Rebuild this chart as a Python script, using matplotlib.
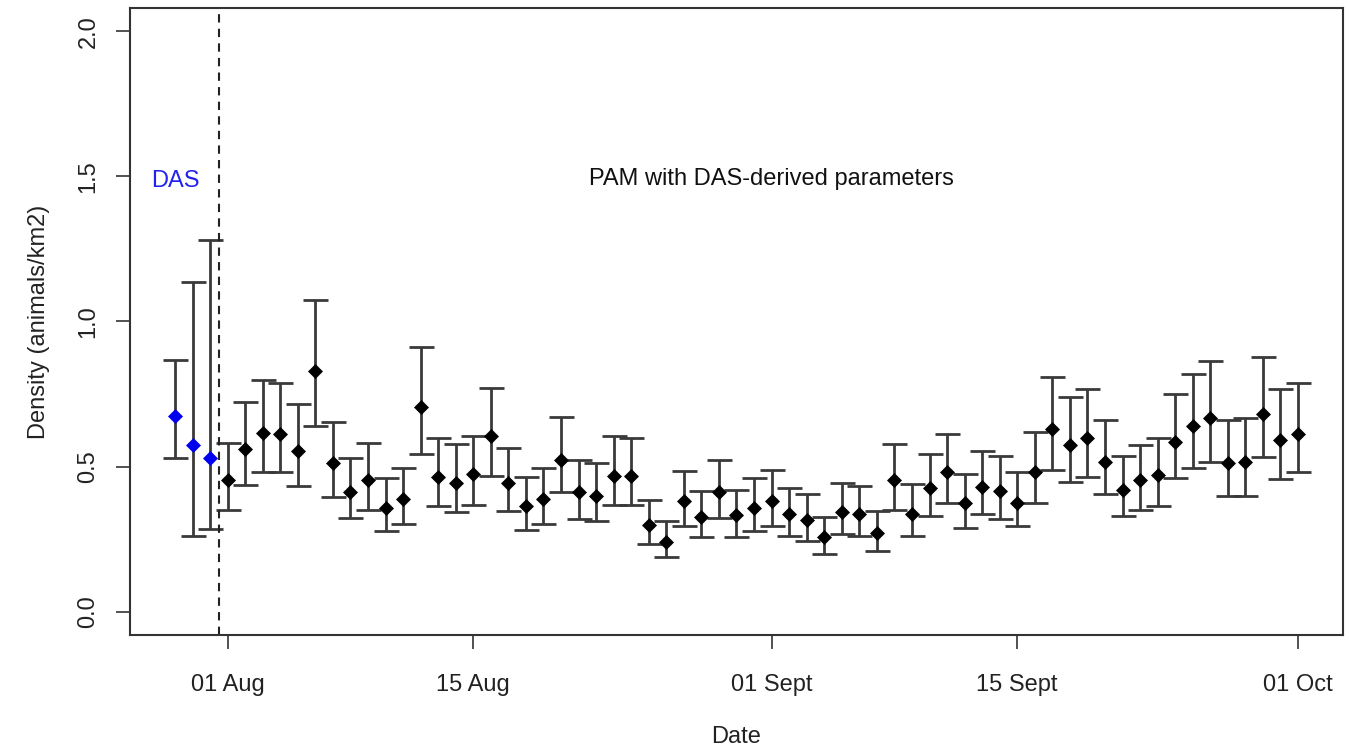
import matplotlib
matplotlib.use("Agg")
import matplotlib.pyplot as plt
import matplotlib.dates as mdates
import numpy as np
import pandas as pd

plt.rcParams['font.family'] = ['Liberation Sans', 'DejaVu Sans']

# DAS estimates (blue)
das_dates = pd.to_datetime(["2017-07-29", "2017-07-30", "2017-07-31"])
das_est = [0.676, 0.576, 0.531]
das_upper = [0.867, 1.135, 1.282]
das_lower = [0.528, 0.262, 0.285]

# PAM estimates (black), daily from 01 Aug to 01 Oct
pam_dates = pd.date_range("2017-08-01", "2017-10-01", freq="D")
pam_est = [0.453, 0.560, 0.617, 0.613, 0.555, 0.831, 0.513, 0.412, 0.454, 0.358,
           0.389, 0.705, 0.464, 0.444, 0.475, 0.604, 0.443, 0.364, 0.389, 0.522,
           0.412, 0.400, 0.469, 0.469, 0.299, 0.240, 0.381, 0.325, 0.412, 0.332,
           0.359,
           0.380, 0.336, 0.316, 0.258, 0.343, 0.336, 0.272, 0.453, 0.336, 0.427,
           0.481, 0.373, 0.431, 0.415, 0.374, 0.481, 0.630, 0.576, 0.598, 0.517,
           0.421, 0.453, 0.470, 0.586, 0.640, 0.668, 0.513, 0.517, 0.683, 0.592,
           0.613]
pam_upper = [0.581, 0.723, 0.800, 0.787, 0.715, 1.075, 0.654, 0.529, 0.581, 0.460,
             0.496, 0.911, 0.598, 0.578, 0.607, 0.772, 0.563, 0.464, 0.495, 0.672,
             0.522, 0.512, 0.605, 0.598, 0.384, 0.311, 0.485, 0.415, 0.522, 0.421,
             0.460,
             0.490, 0.427, 0.406, 0.325, 0.444, 0.433, 0.348, 0.579, 0.440, 0.544,
             0.613, 0.475, 0.554, 0.538, 0.481, 0.619, 0.810, 0.741, 0.768, 0.660,
             0.538, 0.576, 0.598, 0.750, 0.819, 0.863, 0.659, 0.668, 0.879, 0.767,
             0.787]
pam_lower = [0.352, 0.438, 0.482, 0.482, 0.433, 0.641, 0.395, 0.322, 0.352, 0.278,
             0.304, 0.545, 0.364, 0.343, 0.368, 0.469, 0.347, 0.283, 0.303, 0.412,
             0.320, 0.311, 0.368, 0.368, 0.234, 0.188, 0.295, 0.257, 0.322, 0.257,
             0.278,
             0.294, 0.261, 0.245, 0.199, 0.267, 0.261, 0.209, 0.352, 0.261, 0.330,
             0.373, 0.288, 0.336, 0.320, 0.294, 0.373, 0.490, 0.448, 0.464, 0.406,
             0.330, 0.351, 0.364, 0.460, 0.496, 0.517, 0.399, 0.399, 0.534, 0.459,
             0.481]

tick_dates = pd.to_datetime(["2017-08-01", "2017-08-15", "2017-09-01", "2017-09-15", "2017-10-01"])
tick_labels = ["01 Aug", "15 Aug", "01 Sept", "15 Sept", "01 Oct"]
y_ticks = [0.0, 0.5, 1.0, 1.5, 2.0]
divider_date = pd.Timestamp("2017-07-31 12:00")

fig = plt.figure(figsize=(13.49, 7.52), dpi=100)
ax = fig.add_axes([0.0964, 0.1556, 0.8991, 0.8338])

def draw(dates, est, lo, up, color):
    est = np.array(est); lo = np.array(lo); up = np.array(up)
    ax.errorbar(dates, est, yerr=[est - lo, up - est], fmt='none',
                ecolor='#3a3a3a', elinewidth=2.0, capsize=9, capthick=2.0, zorder=2)
    ax.plot(dates, est, linestyle='none', marker='D', markersize=7,
            markerfacecolor=color, markeredgecolor=color, markeredgewidth=0.5, zorder=3)

draw(das_dates, das_est, das_lower, das_upper, '#0000ee')
draw(pam_dates, pam_est, pam_lower, pam_upper, 'black')

ax.axvline(divider_date, color='#222222', linestyle=(0, (4, 3)), linewidth=1.5, zorder=2)

ax.text(pd.Timestamp("2017-07-29"), 1.485, "DAS", color='#2222ee', fontsize=17,
        ha='center', va='center')
ax.text(pd.Timestamp("2017-09-01"), 1.49, "PAM with DAS-derived parameters",
        color='#111111', fontsize=17, ha='center', va='center')

x0 = mdates.date2num(pd.Timestamp("2017-07-29"))
x1 = mdates.date2num(pd.Timestamp("2017-10-01"))
pad = 0.04 * (x1 - x0)
ax.set_xlim(x0 - pad, x1 + pad)
ax.set_ylim(-0.08, 2.08)

ax.set_xticks(tick_dates)
ax.set_xticklabels(tick_labels)
ax.set_yticks(y_ticks)
ax.set_yticklabels([f"{v:.1f}" for v in y_ticks], rotation=90, va='center')

ax.tick_params(axis='both', direction='out', length=10, width=1.2, color='#333333',
               labelsize=17, labelcolor='#222222')
ax.tick_params(axis='x', pad=18)
ax.tick_params(axis='y', pad=12)
for s in ax.spines.values():
    s.set_color('#333333')
    s.set_linewidth(1.5)

ax.set_xlabel("Date", fontsize=17, color='#222222', labelpad=22)
ax.set_ylabel("Density (animals/km2)", fontsize=17, color='#222222', labelpad=20)

fig.savefig("out.png", dpi=100)
